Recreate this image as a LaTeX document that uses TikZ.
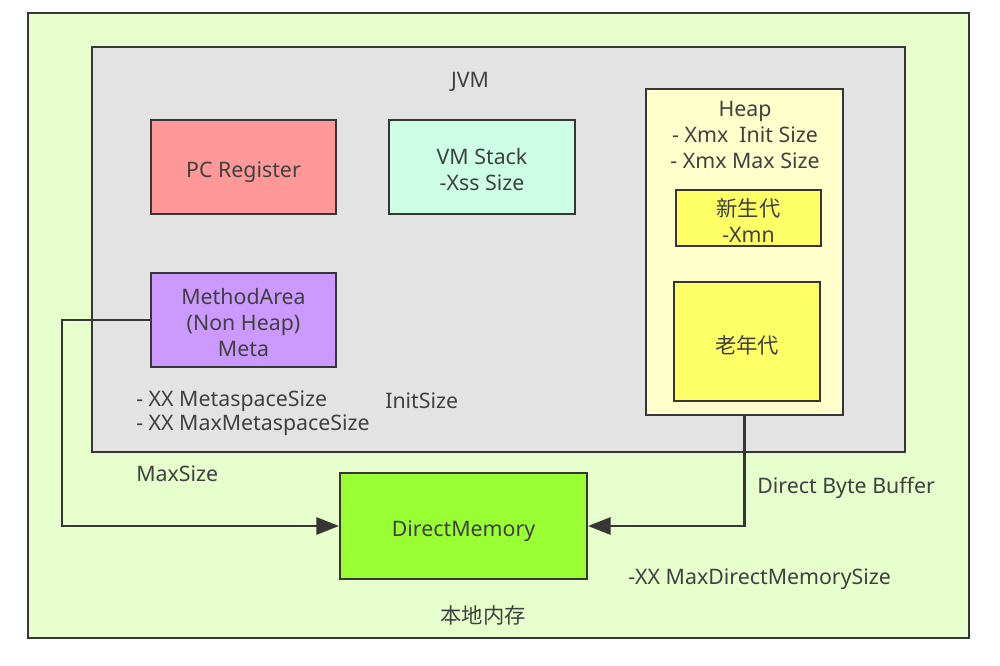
\documentclass[tikz,border=0pt]{standalone}
\usepackage{fontspec}
\setmainfont{Noto Sans}
\newfontfamily\cjk{Noto Sans CJK SC}
\usetikzlibrary{arrows.meta}
\definecolor{edge}{HTML}{363636}
\definecolor{ink}{HTML}{404040}
\definecolor{native}{HTML}{E6FFCC}
\definecolor{jvmgray}{HTML}{E3E3E3}
\definecolor{pcred}{HTML}{FF9999}
\definecolor{stackmint}{HTML}{CCFFE6}
\definecolor{metapurple}{HTML}{CC99FF}
\definecolor{heapcream}{HTML}{FFFFCC}
\definecolor{genyellow}{HTML}{FFFF66}
\definecolor{directgreen}{HTML}{99FF33}
\tikzset{
	area/.style 2 args={draw=edge, line width=1.6pt, inner sep=0pt,
		minimum width=#1*0.75pt, minimum height=#2*0.75pt},
	boxtext/.style={text=ink, inner sep=0pt, align=center, text depth=0pt,
		font=\fontsize{16}{19.5}\selectfont},
	lbl/.style={text=ink, inner sep=0pt, font=\fontsize{16}{18}\selectfont},
	conn/.style={draw=edge, line width=1.6pt, -{Triangle[length=17pt,width=13pt]}}
}
% empty region
\newcommand{\region}[5]{\node[area={#3}{#4}, fill=#2] (#1) at (#5) {};}
% region with centred text
\newcommand{\membox}[6]{
	\node[area={#3}{#4}, fill=#2] (#1) at (#5) {};
	\node[boxtext] (#1text) at ([yshift=-2pt]#1.center) {#6};
}
\begin{document}
\begin{tikzpicture}[x=0.75pt, y=-0.75pt]
			\useasboundingbox (0,0) rectangle (1000,665);
			\fill[white] (0,0) rectangle (1000,665);
			\region{native}{native}{941}{625}{498.5,325.5}
			\region{jvm}{jvmgray}{813}{405}{498.5,249.5}
			\membox{pc}{pcred}{185}{94}{243.5,167}{PC Register}
			\membox{stack}{stackmint}{186}{94}{482,167}{VM Stack\\-Xss Size}
			\membox{meta}{metapurple}{185}{94}{243.5,320}{MethodArea\\(Non Heap)\\Meta}
			\region{heap}{heapcream}{197}{326}{744.5,252}
			\membox{young}{genyellow}{145}{56}{748.5,218}{{\cjk 新生代}\\-Xmn}
			\membox{old}{genyellow}{146}{119}{747,341.5}{\cjk 老年代}
			\membox{dm}{directgreen}{247}{106}{463.5,526}{DirectMemory}
			% texts
			\node[lbl] (jvmtitle) at (470,82) {JVM};
			\node[lbl, align=center, font=\fontsize{16}{19.5}\selectfont] (heaptitle) at (745,135) {Heap\\- Xmx~ Init Size\\- Xmx Max Size};
			\node[lbl, anchor=west, align=left] (metaflags) at (136,413) {- XX MetaspaceSize\\- XX MaxMetaspaceSize};
			\node[lbl, anchor=west] (initsize) at (385,401) {InitSize};
			\node[lbl, anchor=west] (maxsize) at (136,474) {MaxSize};
			\node[lbl, anchor=west] (dbb) at (757,488) {Direct Byte Buffer};
			\node[lbl, anchor=west] (dmflag) at (628,579) {-XX MaxDirectMemorySize};
			\node[lbl] (local) at (483,615) {\cjk 本地内存};
			% connectors
			\coordinate (bend) at (62,320);
			\draw[conn] (meta.west) -- (bend) |- (dm.west);
			\draw[conn] (heap.south) |- (dm.east);
		\end{tikzpicture}
\end{document}
